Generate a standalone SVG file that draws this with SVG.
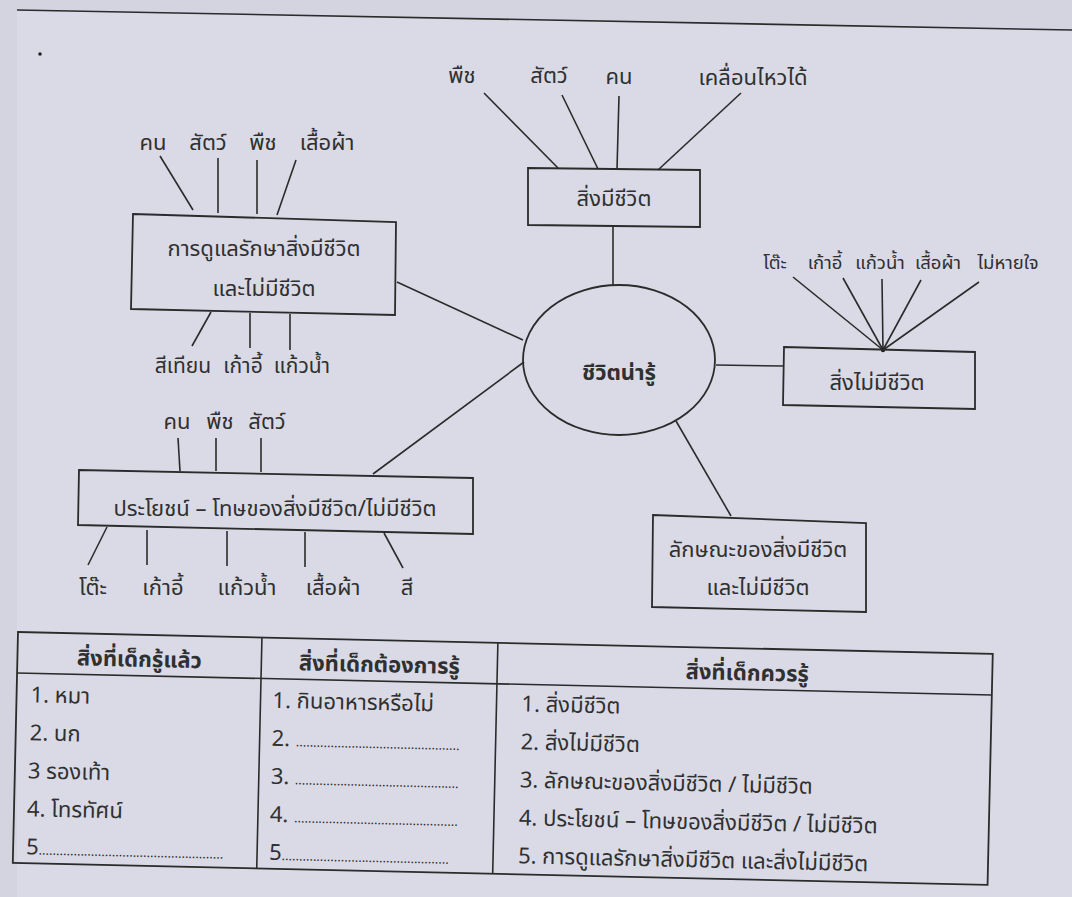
<svg xmlns="http://www.w3.org/2000/svg" width="1072" height="897" viewBox="0 0 1072 897">
<style>
.t{font-family:"Noto Sans Thai","Noto Sans","DejaVu Sans",sans-serif;font-size:22px;fill:#303030;}
.s{font-size:21px;}
.xs{font-size:18.5px;}
.d{font-size:13px;}
.tc{text-anchor:middle;}
.b{font-weight:bold;}
.ln{stroke:#2b2b2b;stroke-width:1.6;fill:none;}
.bx{stroke:#2b2b2b;stroke-width:1.8;fill:none;}
</style>
<rect x="0" y="0" width="1072" height="897" fill="#d3d4e0"/>
<path d="M17,10 L1072,30 L1072,897 L17,897 Z" fill="#d9dae6"/>
<path d="M17,10 L1072,30" class="ln" stroke-width="1.2"/>
<circle cx="40" cy="54" r="1.8" fill="#222"/>

<g id="connectors">
<line class="ln" x1="613" y1="286" x2="613" y2="226"/>
<line class="ln" x1="523" y1="340" x2="397" y2="282"/>
<line class="ln" x1="524" y1="362" x2="373" y2="474"/>
<line class="ln" x1="716" y1="365" x2="784" y2="366"/>
<line class="ln" x1="676" y1="421" x2="731" y2="516"/>
<line class="ln" x1="160" y1="156" x2="193" y2="210"/>
<line class="ln" x1="218" y1="158" x2="218" y2="213"/>
<line class="ln" x1="257" y1="160" x2="257" y2="214"/>
<line class="ln" x1="296" y1="160" x2="277" y2="215"/>
<line class="ln" x1="211" y1="312" x2="192" y2="346"/>
<line class="ln" x1="250" y1="313" x2="250" y2="348"/>
<line class="ln" x1="290" y1="314" x2="290" y2="350"/>
<line class="ln" x1="484" y1="93" x2="558" y2="168"/>
<line class="ln" x1="562" y1="95" x2="598" y2="169"/>
<line class="ln" x1="619" y1="96" x2="617" y2="169"/>
<line class="ln" x1="741" y1="93" x2="658" y2="170"/>
<line class="ln" x1="793" y1="277" x2="883" y2="350"/>
<line class="ln" x1="843" y1="278" x2="883" y2="350"/>
<line class="ln" x1="882" y1="279" x2="883" y2="350"/>
<line class="ln" x1="921" y1="280" x2="883" y2="350"/>
<line class="ln" x1="979" y1="282" x2="883" y2="350"/>
<circle cx="883" cy="350" r="2.2" fill="#222"/>
<line class="ln" x1="178" y1="438" x2="180" y2="471"/>
<line class="ln" x1="216" y1="438" x2="216" y2="471"/>
<line class="ln" x1="261" y1="438" x2="261" y2="472"/>
<line class="ln" x1="107" y1="527" x2="88" y2="565"/>
<line class="ln" x1="147" y1="530" x2="147" y2="565"/>
<line class="ln" x1="227" y1="531" x2="227" y2="566"/>
<line class="ln" x1="305" y1="532" x2="305" y2="567"/>
<line class="ln" x1="384" y1="533" x2="403" y2="568"/>
</g>

<g id="center">
<ellipse class="bx" cx="619" cy="360" rx="96" ry="75"/>
<text class="t tc b" x="619" y="380" font-size="25">ชีวิตน่ารู้</text>
</g>

<g id="living">
<path class="bx" d="M528,168 L700,170 L700,227 L528,225 Z"/>
<text class="t tc" x="614" y="206">สิ่งมีชีวิต</text>
<text class="t tc" x="462" y="83">พืช</text>
<text class="t tc" x="549" y="83">สัตว์</text>
<text class="t tc" x="619" y="84">คน</text>
<text class="t tc" x="753" y="85">เคลื่อนไหวได้</text>
</g>

<g id="nonliving">
<path class="bx" d="M784,347 L975,352 L975,409 L783,405 Z"/>
<text class="t tc" x="877" y="390">สิ่งไม่มีชีวิต</text>
<text class="t tc xs" x="775" y="269">โต๊ะ</text>
<text class="t tc xs" x="825" y="269">เก้าอี้</text>
<text class="t tc xs" x="880" y="269">แก้วน้ำ</text>
<text class="t tc xs" x="938" y="269">เสื้อผ้า</text>
<text class="t tc xs" x="1008" y="269">ไม่หายใจ</text>
</g>

<g id="care">
<path class="bx" d="M133,214 L396,222 L395,315 L131,309 Z"/>
<text class="t tc" x="264" y="256">การดูแลรักษาสิ่งมีชีวิต</text>
<text class="t tc" x="264" y="296">และไม่มีชีวิต</text>
<text class="t tc" x="153" y="150">คน</text>
<text class="t tc" x="208" y="150">สัตว์</text>
<text class="t tc" x="263" y="150">พืช</text>
<text class="t tc" x="327" y="150">เสื้อผ้า</text>
<text class="t tc s" x="183" y="373">สีเทียน</text>
<text class="t tc s" x="243" y="373">เก้าอี้</text>
<text class="t tc s" x="302" y="373">แก้วน้ำ</text>
</g>

<g id="benefit">
<path class="bx" d="M79,470 L473,478 L473,534 L78,525 Z"/>
<text class="t tc" x="275" y="516">ประโยชน์ – โทษของสิ่งมีชีวิต/ไม่มีชีวิต</text>
<text class="t tc" x="177" y="429">คน</text>
<text class="t tc" x="220" y="429">พืช</text>
<text class="t tc" x="267" y="429">สัตว์</text>
<text class="t tc" x="93" y="595">โต๊ะ</text>
<text class="t tc" x="163" y="595">เก้าอี้</text>
<text class="t tc" x="247" y="595">แก้วน้ำ</text>
<text class="t tc" x="333" y="595">เสื้อผ้า</text>
<text class="t tc" x="407" y="595">สี</text>
</g>

<g id="traits">
<path class="bx" d="M653,515 L866,523 L866,612 L652,607 Z"/>
<text class="t tc" x="758" y="557">ลักษณะของสิ่งมีชีวิต</text>
<text class="t tc" x="758" y="595">และไม่มีชีวิต</text>
</g>

<g id="table" transform="translate(18,632) rotate(1.29)">
<rect class="bx" x="0" y="0" width="975" height="231"/>
<line class="ln" x1="0" y1="41" x2="975" y2="41"/>
<line class="ln" x1="244" y1="0" x2="244" y2="231"/>
<line class="ln" x1="480" y1="0" x2="480" y2="231"/>
<text class="t tc b" x="122" y="32">สิ่งที่เด็กรู้แล้ว</text>
<text class="t tc b" x="362" y="32">สิ่งที่เด็กต้องการรู้</text>
<text class="t tc b" x="730" y="32">สิ่งที่เด็กควรรู้</text>
<text class="t" x="14" y="70">1. หมา</text>
<text class="t" x="14" y="108">2. นก</text>
<text class="t" x="13" y="146">3 รองเท้า</text>
<text class="t" x="13" y="184">4. โทรทัศน์</text>
<text class="t" x="13" y="222">5<tspan class="d">.....................................................</tspan></text>
<text class="t" x="256" y="70">1. กินอาหารหรือไม่</text>
<text class="t" x="256" y="108">2. <tspan class="d">...............................................</tspan></text>
<text class="t" x="256" y="146">3. <tspan class="d">...............................................</tspan></text>
<text class="t" x="256" y="184">4. <tspan class="d">...............................................</tspan></text>
<text class="t" x="256" y="222">5<tspan class="d">................................................</tspan></text>
<text class="t" x="505" y="68">1. สิ่งมีชีวิต</text>
<text class="t" x="505" y="106">2. สิ่งไม่มีชีวิต</text>
<text class="t" x="505" y="144">3. ลักษณะของสิ่งมีชีวิต / ไม่มีชีวิต</text>
<text class="t" x="505" y="182">4. ประโยชน์ – โทษของสิ่งมีชีวิต / ไม่มีชีวิต</text>
<text class="t" x="505" y="220">5.  การดูแลรักษาสิ่งมีชีวิต และสิ่งไม่มีชีวิต</text>
</g>
</svg>
